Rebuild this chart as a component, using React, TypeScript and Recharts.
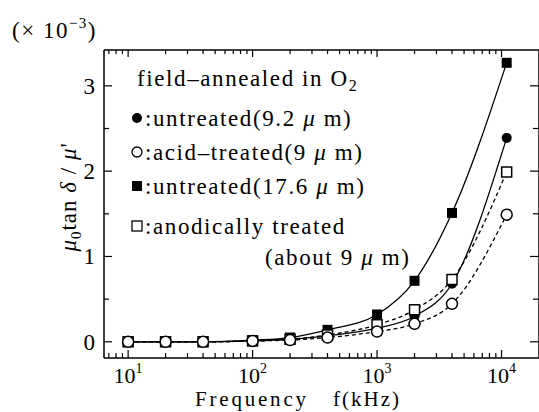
import React from 'react';
import { LineChart, Line, XAxis, YAxis, ReferenceLine } from 'recharts';

// frequency in kHz
const freqs = [10, 20, 40, 100, 200, 400, 1000, 2000, 4000, 11000];
// mu0 tan(delta) / mu'  (x 1e-3)
const untreated92 = [0, 0, 0, 0.01, 0.03, 0.07, 0.16, 0.3, 0.68, 2.39];
const acidTreated9 = [0, 0, 0, 0.01, 0.02, 0.05, 0.12, 0.21, 0.445, 1.49];
const untreated176 = [0, 0, 0, 0.02, 0.05, 0.14, 0.32, 0.715, 1.51, 3.27];
const anodic9 = [0, 0, 0, 0.01, 0.03, 0.08, 0.2, 0.375, 0.73, 1.99];

const xTicks = [7, 8, 9, 10, 20, 30, 40, 50, 60, 70, 80, 90, 100, 200, 300, 400, 500, 600, 700, 800, 900,
  1000, 2000, 3000, 4000, 5000, 6000, 7000, 8000, 9000, 10000];
const yTicks = [0, 0.5, 1, 1.5, 2, 2.5, 3];

const X_MIN = 6.4;
const X_MAX = 20000;
const Y_MIN = -0.19;
const Y_MAX = 3.42;

const W = 539;
const H = 412;
const AXIS_W = 60;
const AXIS_H = 40;
const margin = { top: 50, right: 0, bottom: 54 - AXIS_H, left: 104 - AXIS_W };
const plotW = W - 104;
const plotH = H - 50 - 54;

const FONT = '"Liberation Serif", "Times New Roman", serif';

const data = freqs.map((f, i) => ({
  f,
  untreated92: untreated92[i],
  acidTreated9: acidTreated9[i],
  untreated176: untreated176[i],
  anodic9: anodic9[i],
}));

const XTick = (props: any) => {
  const { x, y, payload } = props;
  const p = Math.log10(payload.value);
  const major = Math.abs(p - Math.round(p)) < 1e-6;
  const len = major ? 8 : 5;
  return (
    <g>
      <line x1={x} y1={y} x2={x} y2={y - len} stroke="#000" strokeWidth={1.2} />
      <line x1={x} y1={y - plotH} x2={x} y2={y - plotH + len - 1} stroke="#000" strokeWidth={1.2} />
      {major && (
        <text x={x} y={y + 25} textAnchor="middle" fontSize={22} fontFamily={FONT} fill="#000">
          10<tspan dy={-10} fontSize={14}>{Math.round(p)}</tspan>
        </text>
      )}
    </g>
  );
};

const YTick = (props: any) => {
  const { x, y, payload } = props;
  const v = payload.value;
  const major = Number.isInteger(v);
  const len = major ? 8 : 5;
  return (
    <g>
      <line x1={x} y1={y} x2={x + len} y2={y} stroke="#000" strokeWidth={1.2} />
      <line x1={x + plotW} y1={y} x2={x + plotW - len - 1} y2={y} stroke="#000" strokeWidth={1.2} />
      {major && (
        <text x={x - 9} y={y + 8} textAnchor="end" fontSize={23} fontFamily={FONT} fill="#000">
          {v}
        </text>
      )}
    </g>
  );
};

const filledCircle = (p: any) => <circle key={p.index} cx={p.cx} cy={p.cy} r={5} fill="#000" />;
const openCircle = (p: any) => (
  <circle key={p.index} cx={p.cx} cy={p.cy} r={5.5} fill="#fff" stroke="#000" strokeWidth={1.5} />
);
const filledSquare = (p: any) => (
  <rect key={p.index} x={p.cx - 5} y={p.cy - 5} width={10} height={10} fill="#000" />
);
const openSquare = (p: any) => (
  <rect key={p.index} x={p.cx - 5} y={p.cy - 5} width={10} height={10} fill="#fff" stroke="#000" strokeWidth={1.5} />
);

const Mu = () => <tspan fontStyle="italic">μ</tspan>;

const legendRows = [
  { y: 118, marker: 'fc', text: ':untreated(9.2 ', tail: ' m)' },
  { y: 152, marker: 'oc', text: ':acid–treated(9 ', tail: ' m)' },
  { y: 186, marker: 'fs', text: ':untreated(17.6 ', tail: ' m)' },
  { y: 226, marker: 'os', text: ':anodically treated', tail: '' },
];

const Overlay = () => (
  <svg width={W} height={H} style={{ position: 'absolute', left: 0, top: 0, pointerEvents: 'none' }}>
    <g fontFamily={FONT} fill="#000" fontSize={23}>
      <text x={12} y={38} letterSpacing={1.5}>
        (× 10<tspan dy={-10} fontSize={15}>−3</tspan><tspan dy={10}>)</tspan>
      </text>
      <text x={137} y={86} letterSpacing={1.6}>
        field–annealed in O<tspan dy={5} fontSize={16}>2</tspan>
      </text>
      {legendRows.map((r) => (
        <g key={r.y}>
          {r.marker === 'fc' && <circle cx={137} cy={r.y} r={5} fill="#000" />}
          {r.marker === 'oc' && <circle cx={137} cy={r.y} r={5} fill="#fff" stroke="#000" strokeWidth={1.3} />}
          {r.marker === 'fs' && <rect x={132} y={r.y - 5} width={10} height={10} fill="#000" />}
          {r.marker === 'os' && (
            <rect x={132} y={r.y - 5} width={10} height={10} fill="#fff" stroke="#000" strokeWidth={1.3} />
          )}
          <text x={145} y={r.y + 8} letterSpacing={1.6}>
            {r.text}
            {r.tail && <Mu />}
            {r.tail}
          </text>
        </g>
      ))}
      <text x={265} y={265} letterSpacing={1.6}>
        (about 9 <Mu /> m)
      </text>
      <text x={76} y={197} textAnchor="middle" letterSpacing={1} transform="rotate(-90, 76, 197)">
        <Mu />
        <tspan dy={5} fontSize={15}>0</tspan>
        <tspan dy={-5}>tan </tspan>
        <tspan fontStyle="italic">δ</tspan> / <Mu />'
      </text>
      <text x={195} y={406} fontSize={21} letterSpacing={2.8}>Frequency</text>
      <text x={333} y={406} fontSize={21} letterSpacing={2}>f(kHz)</text>
    </g>
  </svg>
);

export default function App() {
  return (
    <div style={{ position: 'absolute', left: 0, top: 0, width: W, height: H, background: '#fff' }}>
      <LineChart width={W} height={H} data={data} margin={margin}>
        <XAxis
          dataKey="f"
          type="number"
          scale="log"
          domain={[X_MIN, X_MAX]}
          allowDataOverflow
          ticks={xTicks}
          interval={0}
          height={AXIS_H}
          tickSize={0}
          tickMargin={0}
          tickLine={false}
          tick={<XTick />}
          axisLine={{ stroke: '#000', strokeWidth: 1.5 }}
        />
        <YAxis
          type="number"
          domain={[Y_MIN, Y_MAX]}
          allowDataOverflow
          ticks={yTicks}
          interval={0}
          width={AXIS_W}
          tickSize={0}
          tickMargin={0}
          tickLine={false}
          tick={<YTick />}
          axisLine={{ stroke: '#000', strokeWidth: 1.5 }}
        />
        <ReferenceLine y={Y_MAX} stroke="#000" strokeWidth={1.5} />
        <ReferenceLine x={X_MAX} stroke="#000" strokeWidth={1.5} />
        <Line type="monotone" dataKey="untreated176" stroke="#000" strokeWidth={1.3} dot={filledSquare} isAnimationActive={false} />
        <Line type="monotone" dataKey="untreated92" stroke="#000" strokeWidth={1.3} dot={filledCircle} isAnimationActive={false} />
        <Line type="monotone" dataKey="anodic9" stroke="#000" strokeWidth={1.3} strokeDasharray="4 3" dot={openSquare} isAnimationActive={false} />
        <Line type="monotone" dataKey="acidTreated9" stroke="#000" strokeWidth={1.3} strokeDasharray="4 3" dot={openCircle} isAnimationActive={false} />
      </LineChart>
      <Overlay />
    </div>
  );
}
